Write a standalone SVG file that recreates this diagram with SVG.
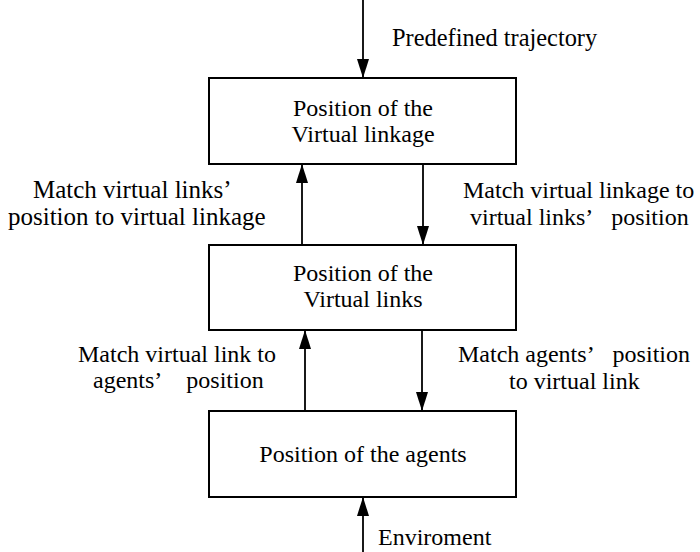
<svg xmlns="http://www.w3.org/2000/svg" width="700" height="552" viewBox="0 0 700 552">
  <style>
    .box { fill: #ffffff; stroke: #000000; stroke-width: 2; }
    .wire { stroke: #000000; stroke-width: 1.8; fill: none; marker-end: url(#head); }
    .big { font-size: 25px; }
  </style>
  <defs>
    <!-- solid triangular arrowhead, tip at the end of the line -->
    <marker id="head" markerUnits="userSpaceOnUse" markerWidth="19" markerHeight="12" viewBox="0 0 19 12" refX="19" refY="6" orient="auto">
      <path d="M0,0 L19,6 L0,12 Z" fill="#000000"/>
    </marker>
  </defs>

  <rect width="700" height="552" fill="#ffffff"/>

  <g font-family="Liberation Serif" font-size="24" fill="#000000">
    <g id="linkage">
      <rect class="box" x="209" y="78" width="307" height="86"/>
      <text text-anchor="middle" x="363" y="116">Position of the</text>
      <text text-anchor="middle" x="363" y="142">Virtual linkage</text>
    </g>

    <g id="links">
      <rect class="box" x="209" y="245" width="307" height="85"/>
      <text text-anchor="middle" x="363" y="281">Position of the</text>
      <text text-anchor="middle" x="363" y="307">Virtual links</text>
    </g>

    <g id="agents">
      <rect class="box" x="209" y="411" width="307" height="86"/>
      <text text-anchor="middle" x="363" y="462">Position of the agents</text>
    </g>

    <g id="connectors">
      <line class="wire" x1="363" y1="0" x2="363" y2="78"/>
      <line class="wire" x1="302" y1="245" x2="302" y2="164"/>
      <line class="wire" x1="423" y1="164" x2="423" y2="245"/>
      <line class="wire" x1="305" y1="411" x2="305" y2="330"/>
      <line class="wire" x1="422" y1="330" x2="422" y2="411"/>
      <line class="wire" x1="363" y1="552" x2="363" y2="497"/>
    </g>

    <g id="labels">
      <text x="392" y="46" font-size="24.4">Predefined trajectory</text>
      <text class="big" x="33" y="198">Match virtual links’</text>
      <text class="big" x="8" y="225">position to virtual linkage</text>
      <text x="463" y="198">Match virtual linkage to</text>
      <text x="470" y="225">virtual links’&#160;&#160;&#160;position</text>
      <text x="78" y="362">Match virtual link to</text>
      <text x="93" y="388">agents’&#160;&#160;&#160;&#160;position</text>
      <text x="458" y="362">Match agents’&#160;&#160;&#160;position</text>
      <text x="509" y="389">to virtual link</text>
      <text x="378" y="545">Enviroment</text>
    </g>
  </g>
</svg>
